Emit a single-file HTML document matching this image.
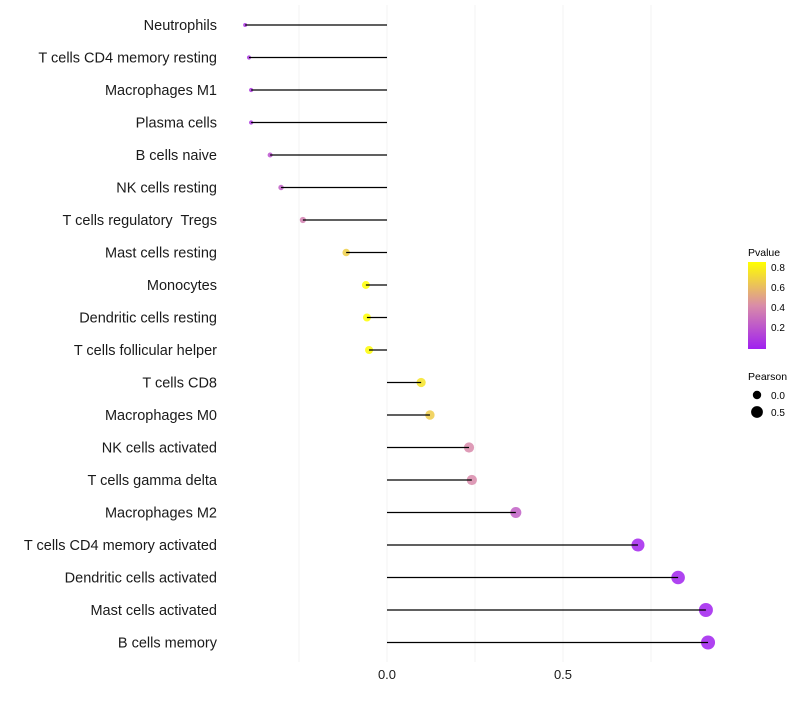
<!DOCTYPE html>
<html><head><meta charset="utf-8"><style>
body{margin:0;background:#fff;font-family:"Liberation Sans",sans-serif}
text{white-space:pre}
</style></head><body>
<svg id="chart" width="800" height="700" xmlns="http://www.w3.org/2000/svg">
<defs><linearGradient id="pg" x1="0" y1="1" x2="0" y2="0">
<stop offset="0" stop-color="#A020F0"/><stop offset="0.5" stop-color="#D98CA8"/><stop offset="1" stop-color="#FFFF00"/></linearGradient></defs>
<g id="grid"></g><g id="marks"></g><g id="labels"></g><g id="xaxis"></g>
<g font-size="10">
<text x="748" y="256" font-size="10.5">Pvalue</text>
<rect x="748" y="262" width="18" height="87" fill="url(#pg)"/>
<text x="771" y="271">0.8</text><text x="771" y="291">0.6</text><text x="771" y="311">0.4</text><text x="771" y="331">0.2</text>
</g>
<g font-size="10">
<text x="748" y="380" font-size="10.5">Pearson</text>
<circle cx="757" cy="395" r="4.2" fill="#000"/><text x="771" y="399">0.0</text>
<circle cx="757" cy="412" r="5.9" fill="#000"/><text x="771" y="416">0.5</text>
</g>
</svg>
<script>
const categories=["Neutrophils","T cells CD4 memory resting","Macrophages M1","Plasma cells","B cells naive","NK cells resting","T cells regulatory  Tregs","Mast cells resting","Monocytes","Dendritic cells resting","T cells follicular helper","T cells CD8","Macrophages M0","NK cells activated","T cells gamma delta","Macrophages M2","T cells CD4 memory activated","Dendritic cells activated","Mast cells activated","B cells memory"];
const pearson=[-0.403,-0.392,-0.386,-0.386,-0.332,-0.301,-0.239,-0.116,-0.06,-0.057,-0.051,0.097,0.122,0.233,0.241,0.366,0.713,0.827,0.906,0.912];
const pvalues=[0.08,0.09,0.1,0.1,0.2,0.25,0.38,0.68,0.86,0.86,0.85,0.76,0.67,0.42,0.42,0.25,0.02,0.01,0.005,0.005];
const xTicks=[0,0.5];
const gridVals=[-0.25,0.25,0.75];
const NS="http://www.w3.org/2000/svg";
const xs=v=>387+v*352;
const ys=i=>25+i*32.5;
const rs=v=>Math.sqrt(Math.max(1,17.8+34.4*v));
function mix(a,b,t){return a.map((c,i)=>Math.round(c+(b[i]-c)*t));}
function pcol(p){const t=Math.max(0,Math.min(1,p/0.86));const P=[160,32,240],M=[217,140,168],Y=[255,255,0];
const c=t<0.5?mix(P,M,t/0.5):mix(M,Y,(t-0.5)/0.5);return `rgb(${c})`;}
function mk(tag,attrs,parent){const e=document.createElementNS(NS,tag);for(const k in attrs)e.setAttribute(k,attrs[k]);document.getElementById(parent).appendChild(e);return e;}
[...gridVals,...xTicks].forEach(v=>{
 const l=mk('line',{x1:xs(v),x2:xs(v),y1:5,y2:662,stroke:'#f3f3f3','stroke-width':1},'grid');
 
 
});
categories.forEach((c,i)=>{
 const y=ys(i);
 const t=mk('text',{x:217,y:y+5,'text-anchor':'end','font-size':14.5,fill:'#1a1a1a'},'labels');t.textContent=c;
 
 
 const ci=mk('circle',{cx:xs(pearson[i]),cy:y,r:rs(pearson[i]),fill:pcol(pvalues[i]),'fill-opacity':0.85},'marks');
 
 
 const ln=mk('line',{x1:xs(0),x2:xs(pearson[i]),y1:y,y2:y,stroke:'#000','stroke-width':1.2},'marks');
 
 
});
xTicks.forEach(v=>{
 const t=mk('text',{x:xs(v),y:679,'text-anchor':'middle','font-size':13,fill:'#1a1a1a'},'xaxis');t.textContent=v.toFixed(1);
 
 
});
</script>
</body></html>
